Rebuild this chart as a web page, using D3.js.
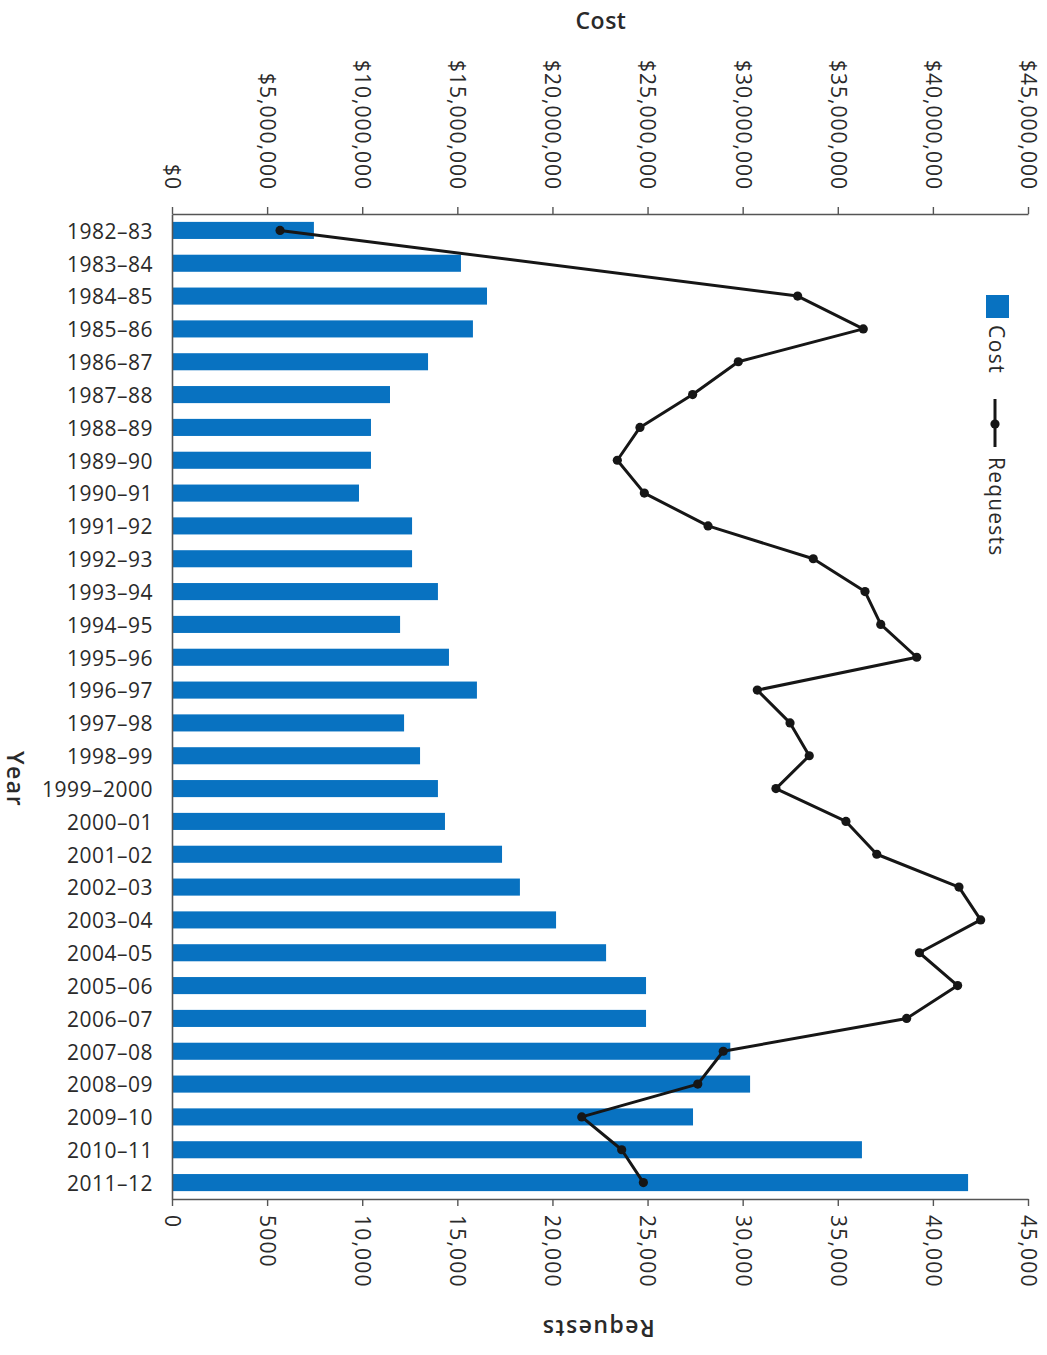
<!DOCTYPE html>
<html>
<head>
<meta charset="utf-8">
<script src="https://cdn.jsdelivr.net/npm/d3@7"></script>
<style>
  html, body { margin: 0; padding: 0; background: #fff; }
  svg { display: block; }
  text { font-family: "Open Sans", "Noto Sans", sans-serif; fill: #2a2a2a; }
</style>
</head>
<body>
<svg id="chart" width="1047" height="1355"></svg>
<script>
const years = ["1982–83","1983–84","1984–85","1985–86","1986–87","1987–88","1988–89","1989–90","1990–91","1991–92","1992–93","1993–94","1994–95","1995–96","1996–97","1997–98","1998–99","1999–2000","2000–01","2001–02","2002–03","2003–04","2004–05","2005–06","2006–07","2007–08","2008–09","2009–10","2010–11","2011–12"];
const cost = [7460000,15190000,16560000,15820000,13460000,11460000,10460000,10460000,9830000,12620000,12620000,13980000,11990000,14560000,16030000,12200000,13040000,13980000,14350000,17350000,18290000,20190000,22820000,24920000,24920000,29350000,30390000,27390000,36270000,41850000];
const requests = [5680,null,32890,36340,29770,27370,24600,23410,24830,28180,33710,36430,37260,39150,30770,32490,33500,31750,35430,37050,41370,42510,39290,41300,38620,28980,27640,21540,23640,24780];
const costTicks = [0,5000000,10000000,15000000,20000000,25000000,30000000,35000000,40000000,45000000];
const requestTicks = [0,5000,10000,15000,20000,25000,30000,35000,40000,45000];
const costTickLabels = ["$0","$5,000,000","$10,000,000","$15,000,000","$20,000,000","$25,000,000","$30,000,000","$35,000,000","$40,000,000","$45,000,000"];
const requestTickLabels = ["0","5000","10,000","15,000","20,000","25,000","30,000","35,000","40,000","45,000"];

const svg = d3.select("#chart");
const mLeft = 172, mRight = 1028, mTop = 214, mBottom = 1199;
const BLUE = "#0872c1";
const AXIS = "#555";
const FONT = "'Open Sans', 'Noto Sans', sans-serif";

const xCost = d3.scaleLinear().domain([0, 45000000]).range([mLeft, mRight]);
const xReq = d3.scaleLinear().domain([0, 45000]).range([mLeft, mRight]);
const y = d3.scaleBand().domain(years).range([mTop, mBottom]).paddingInner(0.48).paddingOuter(0.24);

// bars
svg.append("g").selectAll("rect").data(years).join("rect")
  .attr("x", xCost(0))
  .attr("y", d => y(d))
  .attr("width", (d, i) => xCost(cost[i]) - xCost(0))
  .attr("height", y.bandwidth())
  .attr("fill", BLUE);

// top axis (cost)
const topAxis = svg.append("g").attr("transform", `translate(0,${mTop})`)
  .call(d3.axisTop(xCost).tickValues(costTicks).tickSize(7).tickSizeOuter(0)
    .tickFormat((d, i) => costTickLabels[i]));
topAxis.select(".domain").attr("stroke", AXIS).attr("stroke-width", 1.6);
topAxis.selectAll(".tick line").attr("stroke", AXIS).attr("stroke-width", 1.4);
topAxis.selectAll(".tick text")
  .attr("transform", "rotate(90)")
  .attr("x", -24).attr("y", 0).attr("dy", "0.36em")
  .attr("text-anchor", "end")
  .style("font-family", FONT)
  .style("font-size", "21px").style("letter-spacing", "1px").style("fill", "#2a2a2a");

// bottom axis (requests)
const botAxis = svg.append("g").attr("transform", `translate(0,${mBottom})`)
  .call(d3.axisBottom(xReq).tickValues(requestTicks).tickSize(7).tickSizeOuter(0)
    .tickFormat((d, i) => requestTickLabels[i]));
botAxis.select(".domain").attr("stroke", AXIS).attr("stroke-width", 1.6);
botAxis.selectAll(".tick line").attr("stroke", AXIS).attr("stroke-width", 1.4);
botAxis.selectAll(".tick text")
  .attr("transform", "rotate(90)")
  .attr("x", 16).attr("y", 0).attr("dy", "0.36em")
  .attr("text-anchor", "start")
  .style("font-family", FONT)
  .style("font-size", "21px").style("letter-spacing", "1.2px").style("fill", "#2a2a2a");

// left axis (years)
const leftAxis = svg.append("g").attr("transform", `translate(${mLeft},0)`)
  .call(d3.axisLeft(y).tickSize(0).tickSizeOuter(0).tickPadding(19));
leftAxis.select(".domain").attr("stroke", AXIS).attr("stroke-width", 1.6);
leftAxis.selectAll(".tick text")
  .attr("dy", "0.4em")
  .style("font-family", FONT)
  .style("font-size", "21px").style("letter-spacing", "0.5px").style("fill", "#2a2a2a");

// requests line
const pts = years.map((d, i) => ({ year: d, v: requests[i] })).filter(p => p.v !== null);
const line = d3.line().x(p => xReq(p.v)).y(p => y(p.year) + y.bandwidth() / 2);
svg.append("path").datum(pts)
  .attr("d", line).attr("fill", "none")
  .attr("stroke", "#161616").attr("stroke-width", 3).attr("stroke-linejoin", "round");
svg.append("g").selectAll("circle").data(pts).join("circle")
  .attr("cx", p => xReq(p.v)).attr("cy", p => y(p.year) + y.bandwidth() / 2)
  .attr("r", 4.6).attr("fill", "#161616");

// titles
svg.append("text").attr("x", 601).attr("y", 29).attr("text-anchor", "middle")
  .style("font-size", "23px").style("font-weight", "600").style("letter-spacing", "0.5px").text("Cost");
svg.append("text").attr("transform", "translate(598,1328) rotate(180)")
  .attr("text-anchor", "middle").attr("dy", "0.35em")
  .style("font-size", "23px").style("font-weight", "600").style("letter-spacing", "1.5px").text("Requests");
svg.append("text").attr("transform", "translate(15,779) rotate(90)")
  .attr("text-anchor", "middle").attr("dy", "0.35em")
  .style("font-size", "23px").style("font-weight", "600").style("letter-spacing", "1.5px").text("Year");

// legend
const lg = svg.append("g");
lg.append("rect").attr("x", 986).attr("y", 295).attr("width", 23).attr("height", 23).attr("fill", BLUE);
lg.append("text").attr("transform", "translate(997,325) rotate(90)")
  .attr("dy", "0.36em").style("font-size", "21px").style("letter-spacing", "1.5px").text("Cost");
lg.append("line").attr("x1", 995).attr("x2", 995).attr("y1", 399).attr("y2", 447)
  .attr("stroke", "#161616").attr("stroke-width", 3);
lg.append("circle").attr("cx", 995).attr("cy", 424).attr("r", 4.6).attr("fill", "#161616");
lg.append("text").attr("transform", "translate(997,457) rotate(90)")
  .attr("dy", "0.36em").style("font-size", "21px").style("letter-spacing", "1.2px").text("Requests");
</script>
</body>
</html>
